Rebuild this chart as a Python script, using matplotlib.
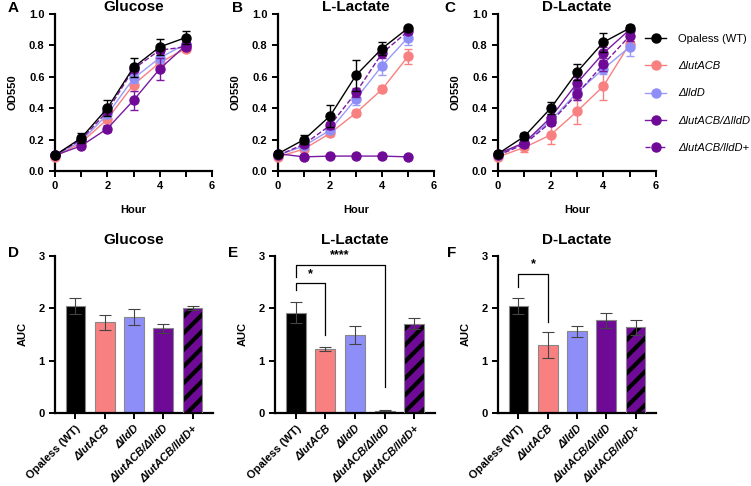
import matplotlib
matplotlib.use("Agg")
import matplotlib.pyplot as plt
from matplotlib.lines import Line2D
import numpy as np

plt.rcParams['font.family'] = ['Liberation Sans', 'DejaVu Sans']
plt.rcParams['hatch.linewidth'] = 3.0

hours = [0, 1, 2, 3, 4, 5]
strains = ["Opaless (WT)", "ΔlutACB", "ΔlldD", "ΔlutACB/ΔlldD", "ΔlutACB/lldD+"]
colors = ["#000000", "#F88080", "#8E8EF8", "#6E0A96", "#6E0A96"]

# Growth curves (OD550)
glucose = [
    [0.10, 0.21, 0.40, 0.66, 0.79, 0.85],
    [0.09, 0.18, 0.33, 0.55, 0.69, 0.78],
    [0.10, 0.19, 0.36, 0.59, 0.72, 0.81],
    [0.10, 0.16, 0.27, 0.45, 0.65, 0.80],
    [0.10, 0.20, 0.38, 0.65, 0.77, 0.79],
]
glucose_err = [
    [0.01, 0.03, 0.05, 0.06, 0.05, 0.04],
    [0.01, 0.02, 0.02, 0.04, 0.03, 0.02],
    [0.01, 0.02, 0.02, 0.03, 0.03, 0.02],
    [0.01, 0.01, 0.02, 0.06, 0.07, 0.02],
    [0.01, 0.02, 0.02, 0.02, 0.02, 0.02],
]
llac = [
    [0.11, 0.20, 0.35, 0.61, 0.78, 0.91],
    [0.09, 0.14, 0.24, 0.37, 0.52, 0.73],
    [0.10, 0.16, 0.26, 0.46, 0.67, 0.85],
    [0.11, 0.09, 0.095, 0.095, 0.095, 0.09],
    [0.10, 0.17, 0.29, 0.50, 0.75, 0.89],
]
llac_err = [
    [0.01, 0.03, 0.07, 0.10, 0.04, 0.01],
    [0.01, 0.01, 0.02, 0.02, 0.02, 0.05],
    [0.01, 0.02, 0.02, 0.04, 0.06, 0.05],
    [0.01, 0.01, 0.01, 0.01, 0.01, 0.01],
    [0.01, 0.02, 0.02, 0.03, 0.03, 0.02],
]
dlac = [
    [0.11, 0.22, 0.40, 0.63, 0.82, 0.91],
    [0.09, 0.15, 0.23, 0.38, 0.54, 0.81],
    [0.10, 0.18, 0.32, 0.50, 0.65, 0.79],
    [0.11, 0.18, 0.34, 0.56, 0.75, 0.90],
    [0.10, 0.17, 0.31, 0.49, 0.68, 0.86],
]
dlac_err = [
    [0.01, 0.02, 0.04, 0.05, 0.06, 0.02],
    [0.01, 0.03, 0.06, 0.08, 0.09, 0.02],
    [0.01, 0.02, 0.03, 0.05, 0.03, 0.06],
    [0.01, 0.02, 0.02, 0.04, 0.04, 0.02],
    [0.01, 0.02, 0.02, 0.04, 0.04, 0.03],
]

# AUC bars
auc_glc = [2.05, 1.73, 1.83, 1.62, 2.00]
auc_glc_err = [0.15, 0.15, 0.15, 0.09, 0.04]
auc_llac = [1.92, 1.22, 1.49, 0.04, 1.71]
auc_llac_err = [0.20, 0.04, 0.18, 0.01, 0.11]
auc_dlac = [2.05, 1.30, 1.56, 1.77, 1.64]
auc_dlac_err = [0.15, 0.24, 0.11, 0.15, 0.14]

titles = ["Glucose", "L-Lactate", "D-Lactate"]

W, H = 751, 486
fig = plt.figure(figsize=(W / 100, H / 100), dpi=100)

def fx(px):
    return px / W

def fy(px):
    return 1 - px / H

top_x = [(55, 212), (278, 434), (498, 656)]
bot_x = [(55, 213), (275, 435), (498, 656)]

def style(ax):
    for s in ["top", "right"]:
        ax.spines[s].set_visible(False)
    for s in ["left", "bottom"]:
        ax.spines[s].set_linewidth(1.6)
    ax.tick_params(width=1.4, length=4, labelsize=8)
    for lab in ax.get_xticklabels() + ax.get_yticklabels():
        lab.set_fontweight("bold")

line_colors = ["#000000", "#F88080", "#9A9AF8", "#7A1AA0", "#7A1AA0"]
zorders = [10, 6, 7, 8, 9]
datasets = [(glucose, glucose_err), (llac, llac_err), (dlac, dlac_err)]
top_axes = []
for i, (x0, x1) in enumerate(top_x):
    ax = fig.add_axes([fx(x0), fy(171), fx(x1 - x0), (171 - 14) / H])
    data, err = datasets[i]
    for j in range(5):
        ls = "--" if j == 4 else "-"
        ax.errorbar(hours, data[j], yerr=err[j], color=line_colors[j], ls=ls, lw=1.0,
                    marker="o", ms=6.5, mfc=colors[j], mec=colors[j], capsize=3,
                    elinewidth=1.0, capthick=1.0, zorder=zorders[j], label=strains[j],
                    clip_on=False)
    ax.set_xlim(0, 6)
    ax.set_ylim(0, 1.0)
    ax.set_xticks([0, 2, 4, 6])
    ax.set_xticks([1, 3, 5], minor=True)
    ax.tick_params(which="minor", width=1.4, length=4)
    ax.set_yticks([0, 0.2, 0.4, 0.6, 0.8, 1.0])
    ax.set_yticklabels(["0.0", "0.2", "0.4", "0.6", "0.8", "1.0"])
    style(ax)
    ax.set_xlabel("Hour", fontsize=8, fontweight="bold", labelpad=10)
    ax.set_ylabel("OD550", fontsize=8, fontweight="bold", labelpad=8)
    ax.set_title(titles[i], fontsize=11, fontweight="bold", pad=1)
    top_axes.append(ax)

handles = [Line2D([], [], color=line_colors[j], ls="--" if j == 4 else "-", lw=1.0,
                  marker="o", ms=6.5, mfc=colors[j], mec=colors[j]) for j in range(5)]
leg = fig.legend(handles, strains, loc="upper left", bbox_to_anchor=(fx(645), fy(34)),
                 frameon=False, fontsize=8, labelspacing=1.55, handlelength=1.9,
                 handletextpad=1.1, borderpad=0, borderaxespad=0)
for k, t in enumerate(leg.get_texts()):
    if k > 0:
        t.set_fontstyle("italic")

bar_sets = [(auc_glc, auc_glc_err), (auc_llac, auc_llac_err), (auc_dlac, auc_dlac_err)]
bot_axes = []
xpos = np.arange(5)
for i, (x0, x1) in enumerate(bot_x):
    ax = fig.add_axes([fx(x0), fy(413), fx(x1 - x0), (413 - 256) / H])
    vals, errs = bar_sets[i]
    for j in range(5):
        if j == 4:
            ax.bar(xpos[j], vals[j], width=0.68, color=colors[j], edgecolor="black",
                   hatch="//", linewidth=0, zorder=2)
            ax.bar(xpos[j], vals[j], width=0.68, fill=False, edgecolor="#888888",
                   linewidth=0.8, zorder=3)
        else:
            ax.bar(xpos[j], vals[j], width=0.68, color=colors[j], edgecolor="#888888",
                   linewidth=0.8, zorder=2)
    ax.errorbar(xpos, vals, yerr=errs, fmt="none", ecolor="#444444", elinewidth=0.8,
                capsize=4, capthick=0.8, zorder=4)
    ax.set_xlim(-0.7, 4.7)
    ax.set_ylim(0, 3)
    ax.set_yticks([0, 1, 2, 3])
    ax.set_xticks(xpos)
    ax.set_xticklabels(strains, rotation=45, ha="right", rotation_mode="anchor")
    style(ax)
    for k, lab in enumerate(ax.get_xticklabels()):
        lab.set_fontsize(8)
        if k > 0:
            lab.set_fontstyle("italic")
    ax.set_ylabel("AUC", fontsize=8, fontweight="bold", labelpad=8)
    ax.set_title(titles[i], fontsize=11, fontweight="bold", pad=9)
    bot_axes.append(ax)

def bracket(ax, x0, x1, ytop, y0, y1, text, ty):
    ax.plot([x0, x0, x1, x1], [y0, ytop, ytop, y1], color="black", lw=0.9,
            clip_on=False, zorder=5)
    ax.text((x0 + x1) / 2, ty, text, ha="center", va="center", fontsize=9,
            fontweight="bold", clip_on=False)

bracket(bot_axes[1], 0, 1, 2.48, 2.35, 1.49, "*", 2.66)
bracket(bot_axes[1], 0, 3, 2.83, 2.60, 0.50, "****", 3.02)
bracket(bot_axes[2], 0, 1, 2.66, 2.41, 1.74, "*", 2.84)

# Panel letters
for letter, (px, py) in zip("ABCDEF", [(8, 8), (232, 8), (444, 8), (8, 253), (228, 253), (447, 253)]):
    fig.text(fx(px), fy(py), letter, fontsize=11, fontweight="bold", ha="left", va="center")

fig.savefig("out.png", dpi=100)
